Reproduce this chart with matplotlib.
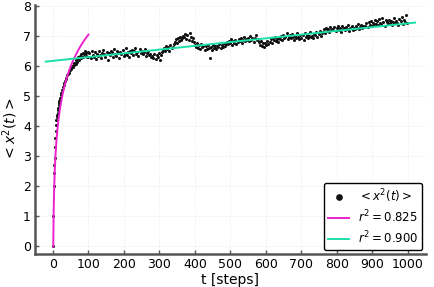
import numpy as np
import matplotlib.pyplot as plt

# early steps, one value per step then every 2 steps
t_early = list(range(0, 21)) + list(range(22, 100, 2))
msd_early = [0.0, 1.0, 2.0, 2.45, 2.7, 2.95, 3.3, 3.6, 3.85, 4.05, 4.2,
             4.3, 4.38, 4.45, 4.55, 4.62, 4.7, 4.78, 4.85, 4.9, 4.96,
             5.05, 5.12, 5.2, 5.3, 5.38, 5.45, 5.52, 5.58, 5.62, 5.7,
             5.75, 5.78, 5.85, 5.88, 5.92, 5.95, 6.0, 5.98, 6.05, 6.1,
             6.12, 6.08, 6.2, 6.15, 6.25, 6.3, 6.22, 6.35, 6.28, 6.4,
             6.32, 6.45, 6.3, 6.42, 6.5, 6.36, 6.44, 6.33, 6.48]

# plateau, every 3 steps from t=100
t_late = list(range(100, 1000, 3))
msd_late = [
    6.31, 6.45, 6.28, 6.52, 6.39, 6.33, 6.47, 6.25, 6.41, 6.36,
    6.50, 6.37, 6.29, 6.46, 6.55, 6.40, 6.33, 6.48, 6.21, 6.44,
    6.39, 6.52, 6.47, 6.31, 6.58, 6.42, 6.36, 6.50, 6.45, 6.29,
    6.48, 6.40, 6.56, 6.35, 6.43, 6.61, 6.38, 6.47, 6.33, 6.52,
    6.44, 6.55, 6.39, 6.50, 6.62, 6.41, 6.48, 6.36, 6.57, 6.46,
    6.51, 6.40, 6.47, 6.58, 6.34, 6.45, 6.52, 6.38, 6.43, 6.30,
    6.35, 6.28, 6.42, 6.25, 6.38, 6.31, 6.44, 6.22, 6.37, 6.48,
    6.55, 6.62, 6.50, 6.68, 6.58, 6.64, 6.53, 6.72, 6.61, 6.66,
    6.75, 6.82, 6.90, 6.78, 6.95, 6.86, 6.99, 6.88, 6.93, 7.02,
    6.97, 7.08, 6.92, 7.03, 6.89, 7.12, 6.98, 6.85, 6.94, 6.80,
    6.72, 6.65, 6.78, 6.60, 6.70, 6.58, 6.74, 6.63, 6.69, 6.55,
    6.67, 6.59, 6.72, 6.62, 6.28, 6.66, 6.55, 6.70, 6.61, 6.68,
    6.58, 6.69, 6.63, 6.74, 6.60, 6.71, 6.65, 6.78, 6.69, 6.75,
    6.82, 6.73, 6.86, 6.77, 6.91, 6.70, 6.84, 6.79, 6.88, 6.74,
    6.81, 6.90, 6.86, 6.95, 6.79, 6.88, 6.97, 6.84, 6.92, 6.87,
    6.93, 6.85, 7.00, 6.89, 6.96, 6.82, 6.94, 7.03, 6.88, 6.91,
    6.80, 6.72, 6.84, 6.68, 6.77, 6.63, 6.79, 6.71, 6.86, 6.74,
    6.82, 6.90, 6.78, 6.94, 6.87, 6.99, 6.85, 6.92, 6.80, 6.96,
    6.91, 7.00, 6.88, 7.05, 6.94, 6.98, 7.10, 6.90, 6.97, 7.03,
    6.93, 7.08, 6.99, 6.87, 7.02, 6.95, 7.12, 6.98, 6.90, 7.05,
    6.96, 7.04, 6.89, 7.10, 6.98, 7.06, 6.93, 7.01, 7.14, 6.97,
    7.02, 6.95, 7.09, 7.04, 7.13, 6.99, 7.07, 7.18, 7.01, 7.10,
    7.15, 7.23, 7.11, 7.28, 7.19, 7.25, 7.14, 7.32, 7.20, 7.26,
    7.22, 7.30, 7.18, 7.27, 7.35, 7.21, 7.29, 7.16, 7.33, 7.24,
    7.28, 7.20, 7.31, 7.24, 7.38, 7.19, 7.27, 7.33, 7.22, 7.29,
    7.26, 7.35, 7.29, 7.41, 7.23, 7.32, 7.38, 7.27, 7.34, 7.30,
    7.36, 7.44, 7.31, 7.47, 7.39, 7.52, 7.35, 7.43, 7.40, 7.55,
    7.42, 7.50, 7.38, 7.58, 7.46, 7.41, 7.62, 7.47, 7.36, 7.53,
    7.48, 7.40, 7.55, 7.44, 7.51, 7.37, 7.49, 7.60, 7.43, 7.52,
    7.46, 7.39, 7.57, 7.50, 7.65, 7.42, 7.54, 7.48, 7.70, 7.44,
]

t = np.array(t_early + t_late)
msd = np.array(msd_early + msd_late)

# fit parameters
log_fit = (1.533, 0.0)      # y = a*ln(t) + b, t in [1, 100]
log_range = (1, 100)
lin_fit = (0.00125, 6.185)  # y = m*t + c
lin_range = (-20, 1020)

plt.rcParams['font.family'] = 'DejaVu Sans'
fig = plt.figure(figsize=(4.34, 2.87), dpi=100)
ax = fig.add_axes([0.081, 0.115, 0.9, 0.868])

ax.plot(t, msd, 'o', color='#111111', markersize=2.2, markeredgewidth=0,
        label='$< x^2(t) >$')

tl = np.linspace(log_range[0], log_range[1], 200)
ax.plot(tl, log_fit[0] * np.log(tl) + log_fit[1], color='#ec22cc', lw=1.4,
        label='$r^2 = 0.825$')
tg = np.array(lin_range)
ax.plot(tg, lin_fit[0] * tg + lin_fit[1], color='#1de0a8', lw=1.4,
        label='$r^2 = 0.900$')

ax.set_xlim(-50, 1050)
ax.set_ylim(-0.25, 8.05)
ax.set_xticks(range(0, 1001, 100))
ax.set_yticks(range(0, 9))
ax.set_xlabel('t [steps]', fontsize=10, labelpad=1)
ax.set_ylabel('$< x^2(t) >$', fontsize=10, labelpad=2)

for s in ['top', 'right']:
    ax.spines[s].set_visible(False)
for s in ['left', 'bottom']:
    ax.spines[s].set_color('#555555')
    ax.spines[s].set_linewidth(1.8)
ax.tick_params(direction='in', length=3, width=1, color='#555555',
               labelsize=9, pad=3)
ax.grid(True, color='#e6e6e6', linestyle=':', linewidth=0.6)

leg = ax.legend(loc='lower right', fontsize=8.5, markerscale=2.2,
                frameon=True, fancybox=True, borderaxespad=0.3,
                handlelength=1.8, labelspacing=0.35, borderpad=0.35,
                handletextpad=0.7)
leg.get_frame().set_edgecolor('black')
leg.get_frame().set_linewidth(1.0)
leg.get_frame().set_alpha(1)

fig.savefig('out.png', dpi=100)
